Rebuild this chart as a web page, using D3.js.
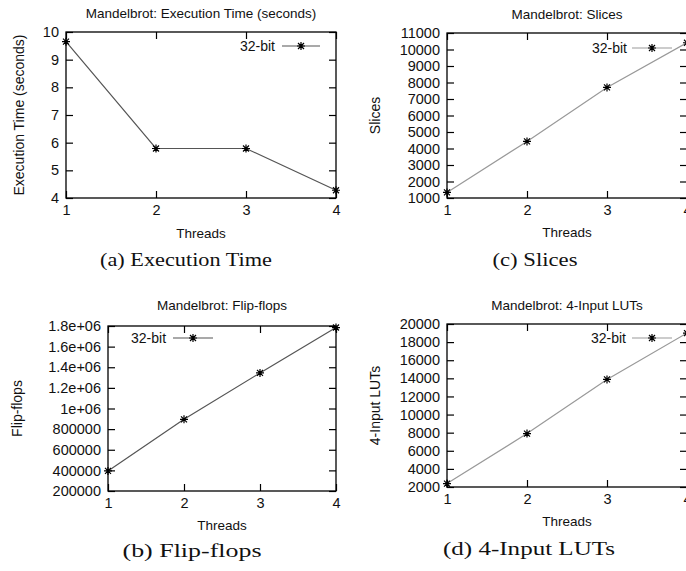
<!DOCTYPE html>
<html>
<head>
<meta charset="utf-8">
<script src="https://cdn.jsdelivr.net/npm/d3@7"></script>
<style>
  body { margin: 0; background: #fff; }
  text { font-family: "Liberation Sans", Arial, sans-serif; fill: #111; }
  .caption { font-family: "Liberation Serif", "Times New Roman", serif; font-size: 18px; }
</style>
</head>
<body>
<div id="chart"></div>
<script>
// data
const threads = [1, 2, 3, 4];
const execTime = [9.65, 5.79, 5.79, 4.28];
const flipFlops = [395000, 895000, 1345000, 1785000];
const slices = [1340, 4430, 7700, 10410];
const luts = [2380, 7900, 13880, 19000];

const execTicks = [4, 5, 6, 7, 8, 9, 10];
const flipTicks = [200000, 400000, 600000, 800000, 1000000, 1200000, 1400000, 1600000, 1800000];
const flipTickLabels = ["200000", "400000", "600000", "800000", "1e+06", "1.2e+06", "1.4e+06", "1.6e+06", "1.8e+06"];
const sliceTicks = [1000, 2000, 3000, 4000, 5000, 6000, 7000, 8000, 9000, 10000, 11000];
const lutTicks = [2000, 4000, 6000, 8000, 10000, 12000, 14000, 16000, 18000, 20000];

const seriesName = "32-bit";

const svg = d3.select("#chart")
  .append("svg")
    .attr("width", 686)
    .attr("height", 571);

const star = "M-4,0H4M0,-4V4M-3,-3L3,3M-3,3L3,-3";

function drawPanel(p) {
  let x = d3.scaleLinear().domain([1, 4]).range([p.x0, p.x1]);
  let y = d3.scaleLinear().domain(p.domain).range([p.y1, p.y0]);
  let g = svg.append("g");
  let fmt = p.labels ? (d => p.labels[p.ticks.indexOf(d)]) : d3.format("d");

  // left axis with labels
  g.append("g")
    .attr("transform", "translate(" + p.x0 + ",0)")
    .call(d3.axisLeft(y).tickValues(p.ticks).tickFormat(fmt).tickSizeInner(-7).tickSizeOuter(0).tickPadding(7))
    .call(a => a.select(".domain").remove())
    .selectAll("text").style("font-size", "14.5px").attr("fill", "#111");

  // mirrored ticks right
  g.append("g")
    .attr("transform", "translate(" + p.x1 + ",0)")
    .call(d3.axisRight(y).tickValues(p.ticks).tickFormat("").tickSizeInner(-7).tickSizeOuter(0))
    .call(a => a.select(".domain").remove());

  // bottom axis
  g.append("g")
    .attr("transform", "translate(0," + p.y1 + ")")
    .call(d3.axisBottom(x).tickValues(threads).tickFormat(d3.format("d")).tickSizeInner(-7).tickSizeOuter(0).tickPadding(7))
    .call(a => a.select(".domain").remove())
    .selectAll("text").style("font-size", "14.5px").attr("fill", "#111");

  // mirrored ticks top
  g.append("g")
    .attr("transform", "translate(0," + p.y0 + ")")
    .call(d3.axisTop(x).tickValues(threads).tickFormat("").tickSizeInner(-7).tickSizeOuter(0))
    .call(a => a.select(".domain").remove());

  g.selectAll(".tick line").attr("stroke", "#000").attr("stroke-width", 1.2);

  // border
  g.append("rect")
    .attr("x", p.x0).attr("y", p.y0)
    .attr("width", p.x1 - p.x0).attr("height", p.y1 - p.y0)
    .attr("fill", "none").attr("stroke", "#000").attr("stroke-width", 1.3);

  // data line + points
  let line = d3.line()
    .x((d, i) => x(threads[i]))
    .y(d => y(d));

  g.append("path")
    .datum(p.values)
    .attr("d", line)
    .attr("fill", "none")
    .attr("stroke", p.lineColor)
    .attr("stroke-width", 1.2);

  g.selectAll("myStar")
    .data(p.values)
    .enter()
    .append("path")
      .attr("d", star)
      .attr("transform", (d, i) => "translate(" + x(threads[i]) + "," + y(d) + ")")
      .attr("stroke", "#000")
      .attr("stroke-width", 1.2)
      .attr("fill", "none");

  // legend
  let lg = p.legend;
  g.append("text")
    .attr("x", lg.textX).attr("y", lg.y)
    .attr("dy", "0.35em")
    .attr("text-anchor", lg.anchor)
    .style("font-size", "14px")
    .text(seriesName);
  g.append("line")
    .attr("x1", lg.x1).attr("x2", lg.x2)
    .attr("y1", lg.y).attr("y2", lg.y)
    .attr("stroke", p.lineColor).attr("stroke-width", 1.2);
  g.append("path")
    .attr("d", star)
    .attr("transform", "translate(" + (lg.x1 + lg.x2) / 2 + "," + lg.y + ")")
    .attr("stroke", "#000").attr("stroke-width", 1.2).attr("fill", "none");

  let cx = (p.x0 + p.x1) / 2;

  // title
  g.append("text")
    .attr("x", cx).attr("y", p.titleY)
    .attr("text-anchor", "middle")
    .style("font-size", "13.5px")
    .text(p.title);

  // axis labels
  g.append("text")
    .attr("x", cx).attr("y", p.threadsY)
    .attr("text-anchor", "middle")
    .style("font-size", "13.5px")
    .text("Threads");

  g.append("text")
    .attr("transform", "translate(" + p.ylabelX + "," + (p.y0 + p.y1) / 2 + ") rotate(-90)")
    .attr("text-anchor", "middle")
    .attr("dy", "0.35em")
    .style("font-size", "14px")
    .text(p.ylabel);

  // caption
  g.append("text")
    .attr("class", "caption")
    .attr("x", p.capX - p.capW / 2).attr("y", p.capY)
    .attr("textLength", p.capW)
    .attr("lengthAdjust", "spacingAndGlyphs")
    .text(p.caption);
}

drawPanel({
  values: execTime, domain: [4, 10], ticks: execTicks,
  x0: 66, x1: 336, y0: 32, y1: 198,
  title: "Mandelbrot: Execution Time (seconds)", titleY: 18,
  ylabel: "Execution Time (seconds)", ylabelX: 19, threadsY: 238,
  caption: "(a) Execution Time", capX: 186, capY: 266, capW: 172,
  legend: { anchor: "end", textX: 275, x1: 282, x2: 320, y: 46 },
  lineColor: "#555"
});

drawPanel({
  values: flipFlops, domain: [200000, 1800000], ticks: flipTicks, labels: flipTickLabels,
  x0: 108, x1: 336, y0: 326, y1: 491,
  title: "Mandelbrot: Flip-flops", titleY: 310,
  ylabel: "Flip-flops", ylabelX: 17, threadsY: 530,
  caption: "(b) Flip-flops", capX: 192, capY: 557, capW: 139,
  legend: { anchor: "start", textX: 131, x1: 173, x2: 213, y: 338 },
  lineColor: "#555"
});

drawPanel({
  values: slices, domain: [1000, 11000], ticks: sliceTicks,
  x0: 447, x1: 687, y0: 33, y1: 198,
  title: "Mandelbrot: Slices", titleY: 19,
  ylabel: "Slices", ylabelX: 375, threadsY: 237,
  caption: "(c) Slices", capX: 535, capY: 266, capW: 85,
  legend: { anchor: "end", textX: 627, x1: 632, x2: 672, y: 48 },
  lineColor: "#999"
});

drawPanel({
  values: luts, domain: [2000, 20000], ticks: lutTicks,
  x0: 447, x1: 687, y0: 324, y1: 487,
  title: "Mandelbrot: 4-Input LUTs", titleY: 310,
  ylabel: "4-Input LUTs", ylabelX: 375, threadsY: 526,
  caption: "(d) 4-Input LUTs", capX: 529, capY: 555, capW: 172,
  legend: { anchor: "end", textX: 626, x1: 632, x2: 672, y: 338 },
  lineColor: "#999"
});
</script>
</body>
</html>
